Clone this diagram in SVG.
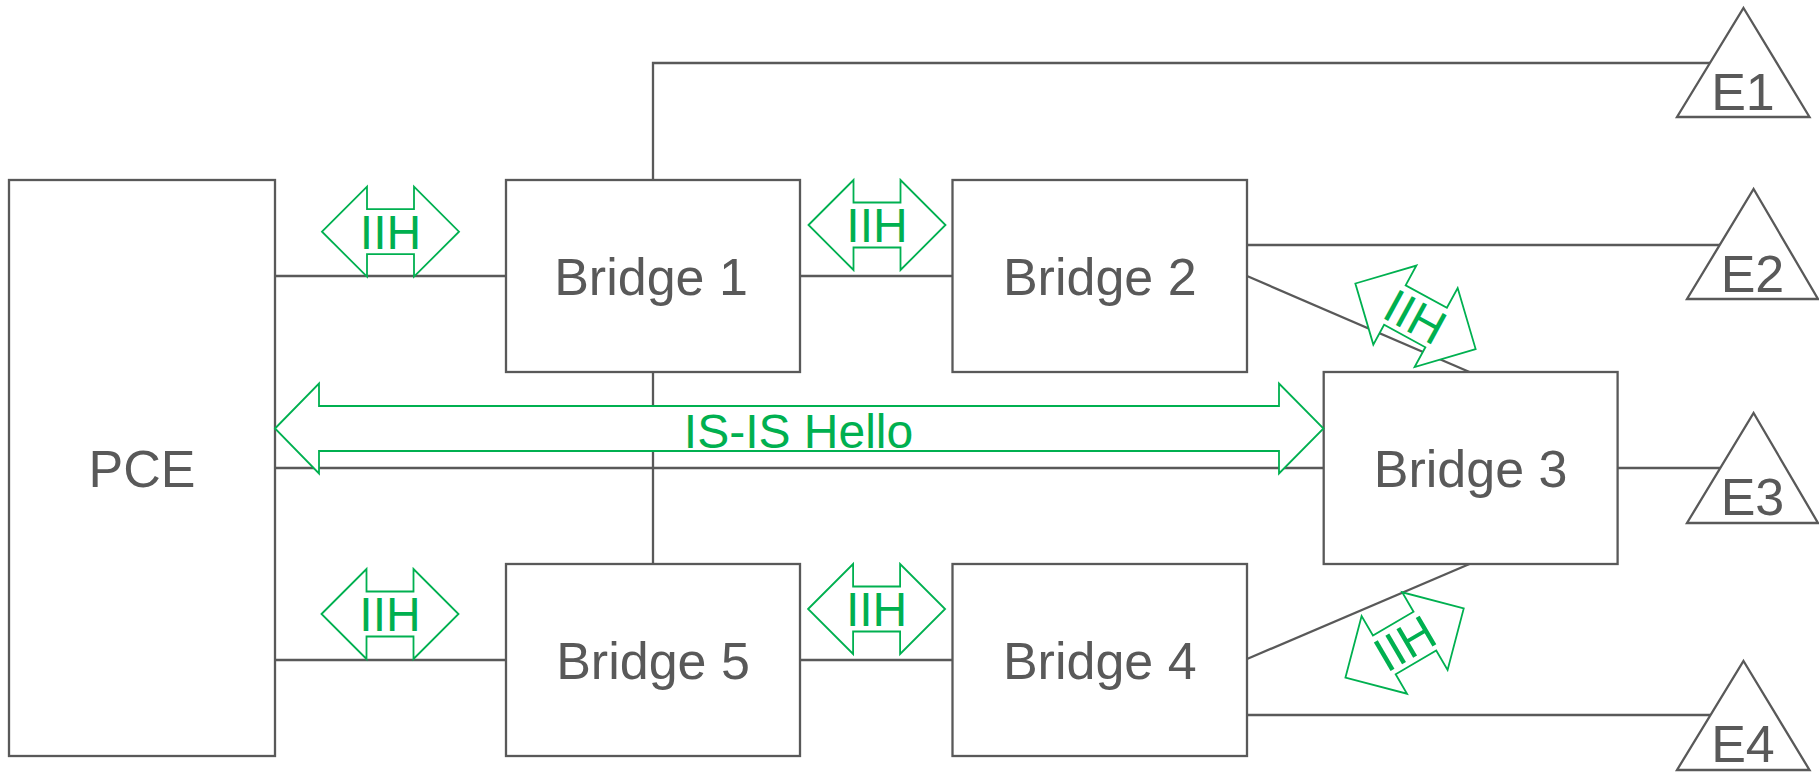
<svg xmlns="http://www.w3.org/2000/svg" xmlns:xlink="http://www.w3.org/1999/xlink" width="1819" height="772" viewBox="0 0 1819 772">
<style>
.box{fill:#fff;stroke:#595959;stroke-width:2.3}
.ln{fill:none;stroke:#595959;stroke-width:2.3}
.lbl{font-family:"Liberation Sans",Arial,Helvetica,sans-serif;font-size:52px;fill:#595959;text-anchor:middle}
.ga{fill:#fff;stroke:#00B050;stroke-width:1.8;stroke-linejoin:miter}
.gt{font-family:"Liberation Sans",Arial,Helvetica,sans-serif;font-size:48px;fill:#00B050;text-anchor:middle}
</style>
<defs>
<path id="dbl" d="M-68.5,0 L-23.5,-45 L-23.5,-22.5 L23.5,-22.5 L23.5,-45 L68.5,0 L23.5,45 L23.5,22.5 L-23.5,22.5 L-23.5,45 Z"/>
</defs>
<rect width="1819" height="772" fill="#fff"/>
<g id="connectors">
<line class="ln" x1="275" y1="276" x2="506" y2="276"/>
<line class="ln" x1="800" y1="276" x2="952.5" y2="276"/>
<polyline class="ln" points="653,180 653,63 1710,63"/>
<line class="ln" x1="1247" y1="245" x2="1720" y2="245"/>
<line class="ln" x1="1247" y1="276" x2="1469.5" y2="372"/>
<line class="ln" x1="275" y1="468" x2="1323.7" y2="468"/>
<line class="ln" x1="1617.6" y1="468" x2="1720.5" y2="468"/>
<line class="ln" x1="653" y1="372" x2="653" y2="564"/>
<line class="ln" x1="275" y1="660" x2="506" y2="660"/>
<line class="ln" x1="800" y1="660" x2="952.5" y2="660"/>
<line class="ln" x1="1247" y1="659" x2="1469.5" y2="564"/>
<line class="ln" x1="1247" y1="715" x2="1710.5" y2="715"/>
</g>
<g id="pce">
<rect class="box" x="9" y="180" width="266" height="576"/>
<text class="lbl" x="142" y="487">PCE</text>
</g>
<g id="bridge1">
<rect class="box" x="506" y="180" width="294" height="192"/>
<text class="lbl" x="651" y="295">Bridge 1</text>
</g>
<g id="bridge2">
<rect class="box" x="952.5" y="180" width="294.5" height="192"/>
<text class="lbl" x="1099.75" y="295">Bridge 2</text>
</g>
<g id="bridge3">
<rect class="box" x="1323.7" y="372" width="293.9" height="192"/>
<text class="lbl" x="1470.6" y="487">Bridge 3</text>
</g>
<g id="bridge4">
<rect class="box" x="952.5" y="564" width="294.5" height="192"/>
<text class="lbl" x="1099.75" y="679">Bridge 4</text>
</g>
<g id="bridge5">
<rect class="box" x="506" y="564" width="294" height="192"/>
<text class="lbl" x="653" y="679">Bridge 5</text>
</g>
<g id="e1">
<polygon class="box" points="1743.5,8 1809.5,117 1677,117"/>
<text class="lbl" x="1743" y="110">E1</text>
</g>
<g id="e2">
<polygon class="box" points="1753.6,189 1818,299 1687,299"/>
<text class="lbl" x="1752.5" y="292">E2</text>
</g>
<g id="e3">
<polygon class="box" points="1753.6,413 1818,523 1687,523"/>
<text class="lbl" x="1752.5" y="515">E3</text>
</g>
<g id="e4">
<polygon class="box" points="1743.5,661 1809.5,770 1677,770"/>
<text class="lbl" x="1743" y="762">E4</text>
</g>
<g id="isis-hello">
<polygon class="ga" points="275,428.5 319,383.5 319,406 1279,406 1279,383.5 1323.5,428.5 1279,473.5 1279,451 319,451 319,473.5"/>
<text class="gt" x="798.5" y="448">IS-IS Hello</text>
</g>
<g id="iih1" transform="translate(390.5,231.7)">
<use href="#dbl" class="ga"/>
<text class="gt" x="0" y="17.2">IIH</text>
</g>
<g id="iih2" transform="translate(877,225)">
<use href="#dbl" class="ga"/>
<text class="gt" x="0" y="17.2">IIH</text>
</g>
<g id="iih3" transform="translate(390,614)">
<use href="#dbl" class="ga"/>
<text class="gt" x="0" y="17.2">IIH</text>
</g>
<g id="iih4" transform="translate(876.6,609)">
<use href="#dbl" class="ga"/>
<text class="gt" x="0" y="17.2">IIH</text>
</g>
<g id="iih5" transform="translate(1415.5,316.3) rotate(28.6)">
<use href="#dbl" class="ga"/>
<text class="gt" x="0" y="17.2">IIH</text>
</g>
<g id="iih6" transform="translate(1404.6,643) rotate(-30.3)">
<use href="#dbl" class="ga"/>
<text class="gt" x="0" y="17.2">IIH</text>
</g>
</svg>
